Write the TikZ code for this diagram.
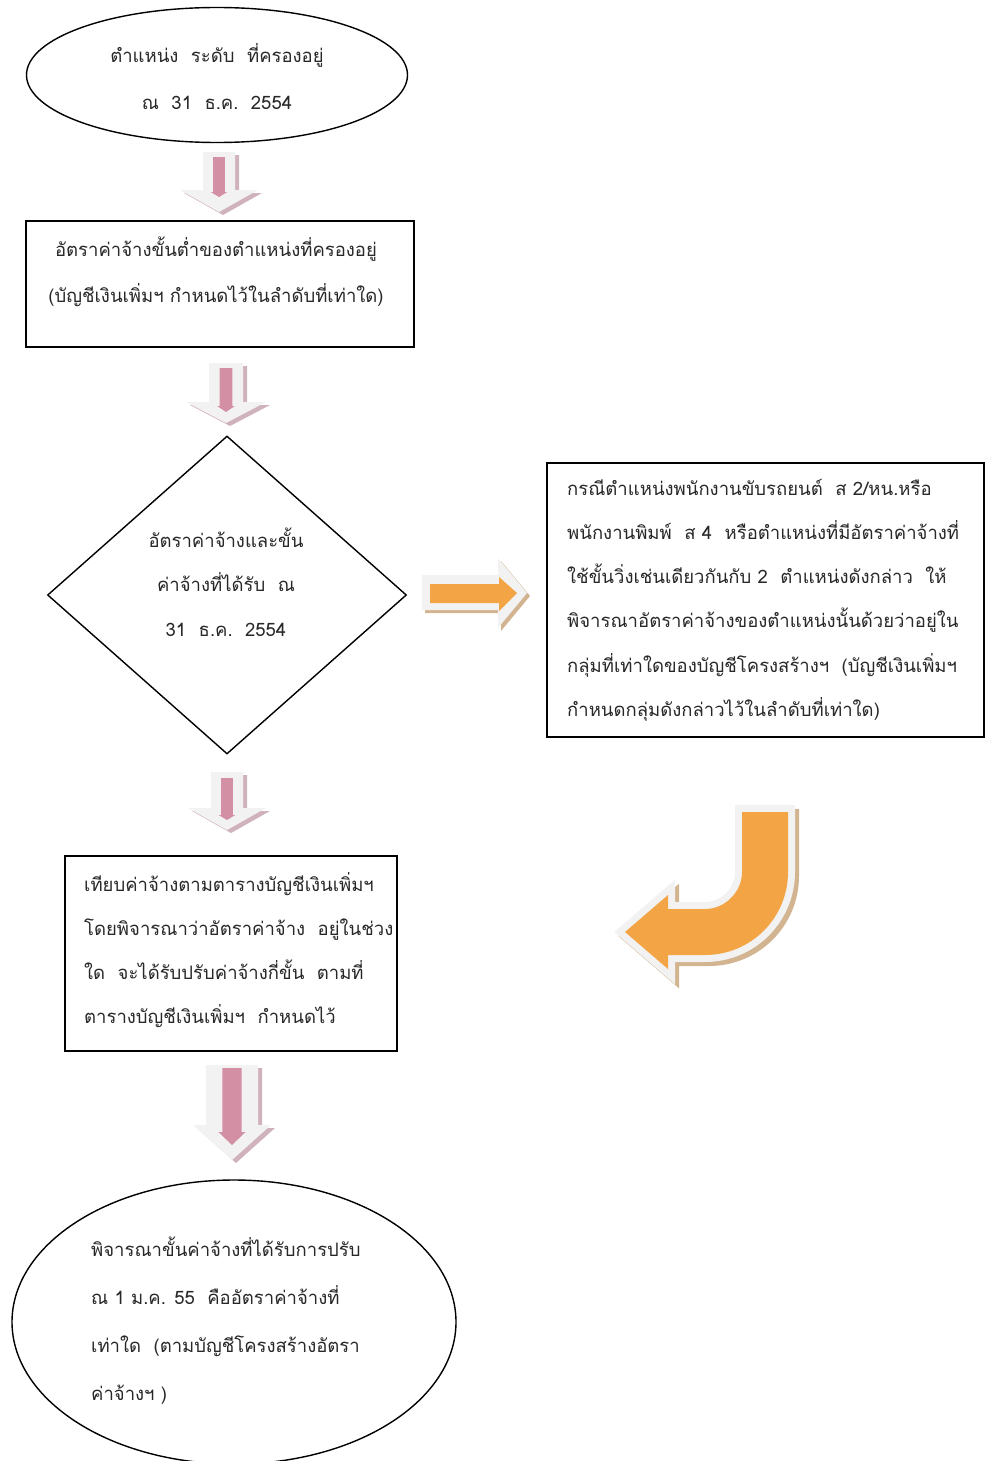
\documentclass[tikz,border=0pt]{standalone}
\usepackage{fontspec}
\newfontfamily\thaifont[Script=Thai]{Loma}
\usetikzlibrary{shapes.geometric}
\definecolor{pinkA}{RGB}{211,143,163}
\definecolor{pinkS}{RGB}{208,178,189}
\definecolor{orangeA}{RGB}{243,165,70}
\definecolor{orangeS}{RGB}{210,180,145}
\definecolor{wfill}{RGB}{242,242,242}
\definecolor{txt}{RGB}{40,40,40}
\tikzset{
  shapeline/.style={draw=black, line width=1.4pt, fill=white, inner sep=0pt},
  thaitext/.style={inner sep=0pt, text=txt},
}
% cx, white top, head start, tip, white shaft half, white head half, pink top, pink bottom, pink tip
\newcommand\DownArr[9]{%
  \fill[pinkS] ({#1-#5+4},{#2+3}) -- ({#1+#5+4},{#2+3}) -- ({#1+#5+4},{#3+3}) -- ({#1+#6+4},{#3+3}) -- ({#1+4},{#4+3}) -- ({#1-#6+4},{#3+3}) -- ({#1-#5+4},{#3+3}) -- cycle;
  \fill[wfill] ({#1-#5},{#2}) -- ({#1+#5},{#2}) -- ({#1+#5},{#3}) -- ({#1+#6},{#3}) -- (#1,{#4}) -- ({#1-#6},{#3}) -- ({#1-#5},{#3}) -- cycle;
  \fill[pinkA] ({#1-0.37*#5},{#7}) -- ({#1+0.37*#5},{#7}) -- ({#1+0.37*#5},{#8}) -- ({#1+0.52*#5},{#8}) -- (#1,{#9}) -- ({#1-0.52*#5},{#8}) -- ({#1-0.37*#5},{#8}) -- cycle;
}
\begin{document}
\begin{tikzpicture}[x=1pt,y=-1pt]
\useasboundingbox (0,0) rectangle (993,1461);

% shapes
\node[shapeline, ellipse, minimum width=381, minimum height=135] (e1) at (217,75) {};
\node[shapeline, rectangle, minimum width=388, minimum height=126] (b1) at (220,284) {};
\node[shapeline, diamond, minimum width=359, minimum height=318] (d1) at (227,595) {};
\node[shapeline, rectangle, minimum width=437, minimum height=274] (b2) at (765.5,600) {};
\node[shapeline, rectangle, minimum width=332, minimum height=195] (b3) at (231,953.5) {};
\node[shapeline, ellipse, minimum width=444, minimum height=284] (e2) at (234,1322) {};

% texts
\node[thaitext, align=center, font=\thaifont\fontsize{18.5}{47}\selectfont] (e1t) at (217,77) {ตำแหน่ง\ \ ระดับ\ \ ที่ครองอยู่\\ณ\ \ 31\ \ ธ.ค.\ \ 2554};
\node[thaitext, align=center, font=\thaifont\fontsize{18.5}{46}\selectfont] (b1t) at (216,272) {อัตราค่าจ้างขั้นต่ำของตำแหน่งที่ครองอยู่\\(บัญชีเงินเพิ่มฯ กำหนดไว้ในลำดับที่เท่าใด)};
\node[thaitext, align=center, font=\thaifont\fontsize{18.5}{44.5}\selectfont] (d1t) at (226,582) {อัตราค่าจ้างและขั้น\\ค่าจ้างที่ได้รับ\ \ ณ\\31\ \ ธ.ค.\ \ 2554};
\node[thaitext, anchor=west, align=left, font=\thaifont\fontsize{18.5}{44.2}\selectfont] (b2t) at (567,600) {กรณีตำแหน่งพนักงานขับรถยนต์\ \ ส 2/หน.หรือ\\พนักงานพิมพ์\ \ ส 4\ \ หรือตำแหน่งที่มีอัตราค่าจ้างที่\\ใช้ขั้นวิ่งเช่นเดียวกันกับ 2\ \ ตำแหน่งดังกล่าว\ \ ให้\\พิจารณาอัตราค่าจ้างของตำแหน่งนั้นด้วยว่าอยู่ใน\\กลุ่มที่เท่าใดของบัญชีโครงสร้างฯ\ \ (บัญชีเงินเพิ่มฯ\\กำหนดกลุ่มดังกล่าวไว้ในลำดับที่เท่าใด)};
\node[thaitext, anchor=west, align=left, font=\thaifont\fontsize{18.5}{44}\selectfont] (b3t) at (84,950) {เทียบค่าจ้างตามตารางบัญชีเงินเพิ่มฯ\\โดยพิจารณาว่าอัตราค่าจ้าง\ \ อยู่ในช่วง\\ใด\ \ จะได้รับปรับค่าจ้างกี่ขั้น\ \ ตามที่\\ตารางบัญชีเงินเพิ่มฯ\ \ กำหนดไว้};
\node[thaitext, anchor=west, align=left, font=\thaifont\fontsize{18.5}{48}\selectfont] (e2t) at (91,1321) {พิจารณาขั้นค่าจ้างที่ได้รับการปรับ\\ณ 1 ม.ค. 55\ \ คืออัตราค่าจ้างที่\\เท่าใด\ \ (ตามบัญชีโครงสร้างอัตรา\\ค่าจ้างฯ )};

% pink down block arrows
\DownArr{219}{152}{190}{212}{16}{39}{157}{192}{197}
\DownArr{226}{363}{402}{423}{17}{40}{368}{406}{412}
\DownArr{227}{772}{808}{830}{16}{39}{778}{815}{820}
\DownArr{232}{1065}{1125}{1160}{26}{39}{1068}{1132}{1145}

% orange right block arrow
\fill[orangeS] (425,578) -- (501,578) -- (501,561) -- (530,596) -- (501,631) -- (501,613) -- (425,613) -- cycle;
\fill[wfill] (422,575) -- (498,575) -- (498,558) -- (527,593) -- (498,628) -- (498,610) -- (422,610) -- cycle;
\fill[orangeA] (430,584) -- (499,584) -- (499,577) -- (517,593) -- (499,611) -- (499,603) -- (430,603) -- cycle;

% orange bent block arrow
\begin{scope}[shift={(4,4)}]
\filldraw[orangeS, line width=14pt, line join=miter] (742,812) -- (742,872) .. controls (742,892) and (725,909) .. (705,909) -- (668,909) -- (668,895) -- (625,932) -- (668,969) -- (668,955) -- (705,955) .. controls (751,955) and (788,918) .. (788,872) -- (788,812) -- cycle;
\end{scope}
\filldraw[draw=wfill, fill=wfill, line width=14pt, line join=miter] (742,812) -- (742,872) .. controls (742,892) and (725,909) .. (705,909) -- (668,909) -- (668,895) -- (625,932) -- (668,969) -- (668,955) -- (705,955) .. controls (751,955) and (788,918) .. (788,872) -- (788,812) -- cycle;
\fill[orangeA] (742,812) -- (742,872) .. controls (742,892) and (725,909) .. (705,909) -- (668,909) -- (668,895) -- (625,932) -- (668,969) -- (668,955) -- (705,955) .. controls (751,955) and (788,918) .. (788,872) -- (788,812) -- cycle;
\end{tikzpicture}
\end{document}
